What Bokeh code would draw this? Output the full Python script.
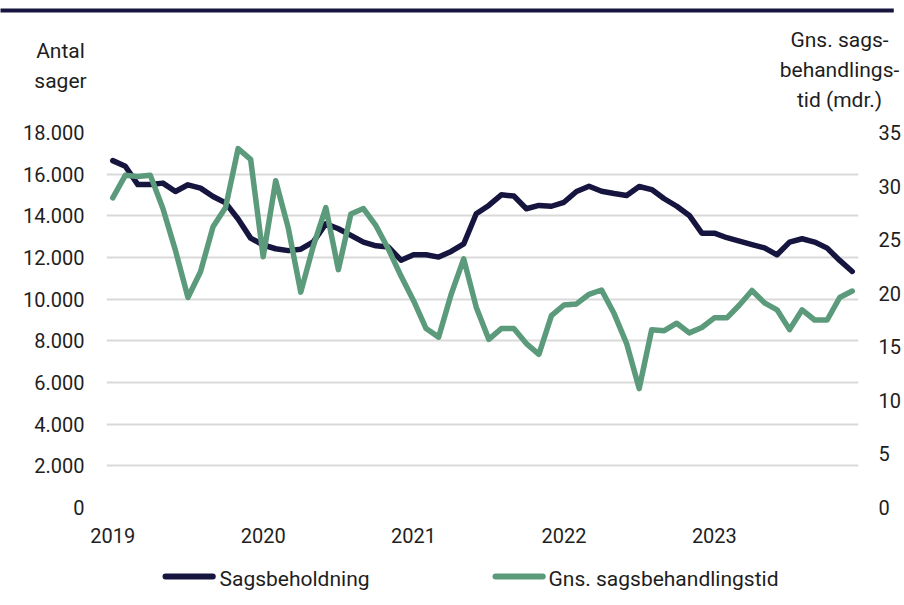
from bokeh.plotting import figure
from bokeh.models import (Range1d, LinearAxis, FixedTicker, ColumnDataSource, Label)
from bokeh.embed import file_html
from bokeh.resources import INLINE

# ---------------- data ----------------
years = ["2019", "2020", "2021", "2022", "2023"]
months_per_year = 12

sagsbeholdning = [
    16650, 16380, 15500, 15500, 15570, 15170, 15490, 15330, 14930, 14620, 13850, 12930,
    12600, 12420, 12330, 12400, 12750, 13620, 13380, 13060, 12740, 12560, 12500, 11870,
    12130, 12130, 12020, 12290, 12650, 14100, 14500, 15010, 14950, 14340, 14500, 14460,
    14650, 15170, 15420, 15180, 15070, 14980, 15410, 15260, 14820, 14460, 14020, 13170,
    13170, 12950, 12790, 12620, 12460, 12130, 12740, 12900, 12740, 12450, 11860, 11330,
]
gns_tid = [
    28.9, 31.0, 30.9, 31.0, 27.9, 24.0, 19.6, 22.0, 26.2, 28.0, 33.5, 32.5,
    23.4, 30.5, 26.1, 20.1, 24.4, 28.0, 22.2, 27.4, 27.9, 26.3, 24.1, 21.6,
    19.3, 16.7, 15.9, 19.9, 23.2, 18.7, 15.7, 16.7, 16.7, 15.3, 14.3, 17.9,
    18.9, 19.0, 19.9, 20.3, 18.1, 15.3, 11.1, 16.6, 16.5, 17.2, 16.3, 16.8,
    17.7, 17.7, 18.9, 20.25, 19.1, 18.45, 16.6, 18.45, 17.5, 17.5, 19.6, 20.2,
]
left_ticks = [0, 2000, 4000, 6000, 8000, 10000, 12000, 14000, 16000, 18000]
left_tick_labels = ["0", "2.000", "4.000", "6.000", "8.000", "10.000",
                    "12.000", "14.000", "16.000", "18.000"]
right_ticks = [0, 5, 10, 15, 20, 25, 30, 35]
series_names = ["Sagsbeholdning", "Gns. sagsbehandlingstid"]
left_title = ["Antal", "sager"]
right_title = ["Gns. sags-", "behandlings-", "tid (mdr.)"]

# ---------------- style ----------------
NAVY = "#16153f"
GREEN = "#5b9a7a"
GRID = "#d9d9d9"
TEXT = "#1e1e1e"
FONT = "Roboto"

x = list(range(len(sagsbeholdning)))
year_ticks = [i * months_per_year for i in range(len(years))]

p = figure(frame_width=752, frame_height=375,
           min_border_left=106, min_border_right=46,
           min_border_top=132, min_border_bottom=98,
           x_range=Range1d(-0.5, len(x) - 0.5),
           y_range=Range1d(left_ticks[0], left_ticks[-1]),
           output_backend="svg", toolbar_location=None,
           outline_line_color=None)
p.extra_y_ranges = {"tid": Range1d(right_ticks[0], right_ticks[-1])}

p.xaxis.ticker = FixedTicker(ticks=year_ticks)
p.xaxis.major_label_overrides = {t: lab for t, lab in zip(year_ticks, years)}
p.yaxis.ticker = FixedTicker(ticks=left_ticks)
p.yaxis.major_label_overrides = {t: lab for t, lab in zip(left_ticks, left_tick_labels)}
ra = LinearAxis(y_range_name="tid", ticker=FixedTicker(ticks=right_ticks))
p.add_layout(ra, "right")

for ax in p.xaxis + p.yaxis + [ra]:
    ax.axis_line_color = None
    ax.major_tick_line_color = None
    ax.minor_tick_line_color = None
    ax.major_tick_out = 0
    ax.minor_tick_out = 0
    ax.major_label_text_font = FONT
    ax.major_label_text_font_size = "20px"
    ax.major_label_text_color = TEXT
p.xaxis.major_label_standoff = 20
p.yaxis.major_label_standoff = 22
ra.major_label_standoff = 20

p.xgrid.visible = False
p.ygrid.ticker = FixedTicker(ticks=left_ticks)
p.ygrid.grid_line_color = GRID
p.ygrid.grid_line_width = 2

src = ColumnDataSource(dict(x=x, s=sagsbeholdning, g=gns_tid))
r1 = p.line("x", "s", source=src, line_color=NAVY, line_width=5.5,
            line_join="round", line_cap="round")
r2 = p.line("x", "g", source=src, y_range_name="tid", line_color=GREEN,
            line_width=5.5, line_join="round", line_cap="round")

# axis titles: single-line labels in the top side panel, absolute canvas pixels
for i, t in enumerate(left_title):
    p.add_layout(Label(x=60, y=50 + 30 * i, x_units="canvas", y_units="canvas",
                       text=t, text_align="center", text_baseline="alphabetic",
                       text_font=FONT, text_font_size="21px", text_color=TEXT), "above")
for i, t in enumerate(right_title):
    p.add_layout(Label(x=839, y=39 + 30 * i, x_units="canvas", y_units="canvas",
                       text=t, text_align="center", text_baseline="alphabetic",
                       text_font=FONT, text_font_size="21px", text_color=TEXT), "above")


def bar(x0, y0, length, top, bottom, color, radius=0):
    """A filled bar drawn as an empty label with a coloured background."""
    kw = dict(x=x0, y=y0, x_units="canvas", y_units="canvas", text=" ",
              text_align="left", text_baseline="top", text_font_size="1px",
              background_fill_color=color, background_fill_alpha=1,
              padding=dict(left=0, right=length, top=top, bottom=bottom))
    try:
        return Label(border_radius=radius, **kw)
    except Exception:
        return Label(**kw)


try:
    # thin dark rule across the top of the page
    p.add_layout(bar(0, 8, 893, 1, 2, NAVY), "below")
    # legend: coloured line swatches + series names
    swatch_x = [162, 492]
    text_x = [219, 548]
    for sx, tx, name, col in zip(swatch_x, text_x, series_names, [NAVY, GREEN]):
        p.add_layout(bar(sx, 573, 53, 2, 3, col, radius=3), "below")
        p.add_layout(Label(x=tx, y=578, x_units="canvas", y_units="canvas",
                           text=name, text_align="left", text_baseline="alphabetic",
                           text_font=FONT, text_font_size="21px",
                           text_color=TEXT), "below")
except Exception:
    pass

open("out.html", "w").write(file_html(p, INLINE))
